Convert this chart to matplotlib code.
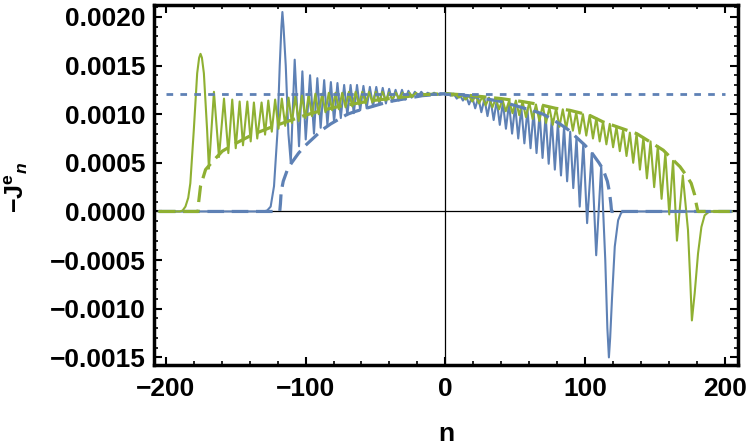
import numpy as np
import matplotlib
matplotlib.use("Agg")
import matplotlib.pyplot as plt
from matplotlib.ticker import MultipleLocator, FuncFormatter

# (n, -J^e_n), peaks and troughs of the oscillations
blue_solid = [
    (-205, 0), (-130, 0), (-127.5, 0.00001), (-125, 0.00005), (-122.6, 0.00026),
    (-120.2, 0.0008), (-118.5, 0.0015), (-117.3, 0.0019), (-116.6, 0.00205),
    (-115.8, 0.0019), (-114.2, 0.0015), (-112.3, 0.0008), (-110.6, 0.0005),
    (-107.8, 0.00156), (-104.7, 0.00067), (-102.3, 0.00144), (-99.9, 0.00074),
    (-96.8, 0.00140), (-94.0, 0.00080), (-91.6, 0.00137), (-89.2, 0.00086),
    (-86.7, 0.00135), (-84.4, 0.00089), (-81.9, 0.00133), (-79.6, 0.00092),
    (-77.2, 0.00132), (-74.8, 0.00096), (-72.4, 0.00130), (-70.1, 0.00099),
    (-67.8, 0.00130), (-65.5, 0.00101), (-63.2, 0.00130), (-60.9, 0.00104),
    (-58.6, 0.00129), (-56.3, 0.00106), (-54.0, 0.00128), (-51.7, 0.00108),
    (-49.4, 0.00128), (-47.1, 0.00110), (-44.8, 0.00127), (-42.5, 0.00111),
    (-40.2, 0.00126), (-37.9, 0.00113), (-35.6, 0.00125), (-33.3, 0.00114),
    (-31.0, 0.00125), (-28.7, 0.00115), (-26.4, 0.00124), (-24.1, 0.00117),
    (-21.8, 0.00123), (-19.5, 0.00118), (-17.2, 0.00123), (-14.9, 0.00119),
    (-12.6, 0.00122), (-10.3, 0.00120), (-8.0, 0.00122), (-5.7, 0.00120),
    (-3.4, 0.001215), (-1.1, 0.00121), (0, 0.00121),
    (1.6, 0.00121), (3.8, 0.00119), (6.0, 0.00121), (8.2, 0.00116), (10.4, 0.00120),
    (12.6, 0.00114), (14.8, 0.00119), (17.0, 0.00110), (19.2, 0.00118),
    (21.4, 0.00106), (23.6, 0.00117), (25.8, 0.00102), (28.0, 0.00116),
    (30.2, 0.00098), (32.4, 0.00115), (34.6, 0.00094), (36.8, 0.00114),
    (39.0, 0.00089), (41.2, 0.00112), (43.4, 0.00085), (45.6, 0.00111),
    (47.8, 0.00080), (50.0, 0.00109), (52.2, 0.00075), (54.4, 0.00107),
    (56.6, 0.00070), (58.8, 0.00105), (61.0, 0.00065), (63.2, 0.00103),
    (65.3, 0.00060), (67.5, 0.00101), (69.6, 0.00055), (71.8, 0.00099),
    (74.0, 0.00049), (76.2, 0.00095), (78.4, 0.00043), (80.6, 0.00091),
    (82.8, 0.00037), (85.0, 0.00087), (87.2, 0.00031), (89.4, 0.00082),
    (91.6, 0.00024), (93.9, 0.00076), (96.2, 0.00005), (98.8, 0.00070),
    (101.5, -0.00012), (104.8, 0.00060), (108.0, -0.00045), (111.6, 0.00047),
    (114.5, -0.0005), (116.0, -0.0012), (117.1, -0.0015), (118.0, -0.0013),
    (119.3, -0.0009), (121.3, -0.00036), (123.7, -0.00009), (126, -0.00001),
    (129, 0), (205, 0),
]

green_solid = [
    (-205, 0), (-190, 0), (-188, 0.00001), (-186, 0.00005), (-184, 0.00014),
    (-182.5, 0.00029), (-180, 0.00084), (-177.6, 0.00142), (-176.2, 0.00158),
    (-175.2, 0.00162), (-174.2, 0.00158), (-172.8, 0.00142), (-170.5, 0.00084),
    (-169.2, 0.00044), (-165.6, 0.00123), (-162.0, 0.00056), (-158.4, 0.00116),
    (-155.3, 0.00060), (-152.5, 0.00115), (-150.0, 0.00065), (-147.2, 0.00113),
    (-144.8, 0.00068), (-141.7, 0.00113), (-139.3, 0.00072), (-137.0, 0.00112),
    (-134.6, 0.00075), (-131.5, 0.00112), (-129.0, 0.00079), (-126.7, 0.00114),
    (-124.2, 0.00082), (-121.8, 0.00115), (-119.4, 0.00085), (-117.0, 0.00116),
    (-114.6, 0.00088), (-112.2, 0.00117), (-109.8, 0.00091), (-107.4, 0.00118),
    (-105.0, 0.00093), (-102.6, 0.00119), (-100.2, 0.00096), (-97.8, 0.00120),
    (-95.4, 0.00098), (-93.0, 0.00121), (-90.6, 0.00100), (-88.2, 0.00121),
    (-85.8, 0.00102), (-83.4, 0.00122), (-81.0, 0.00104), (-78.6, 0.00122),
    (-76.2, 0.00105), (-73.8, 0.00122), (-71.4, 0.00107), (-69.0, 0.00123),
    (-66.6, 0.00108), (-64.2, 0.00123), (-61.8, 0.00110), (-59.4, 0.00123),
    (-57.0, 0.00111), (-54.6, 0.00123), (-52.2, 0.00112), (-49.8, 0.00123),
    (-47.4, 0.00113), (-45.0, 0.00123), (-42.6, 0.00114), (-40.2, 0.00122),
    (-37.8, 0.00115), (-35.4, 0.00122), (-33.0, 0.00116), (-30.6, 0.00122),
    (-28.2, 0.00117), (-25.8, 0.00122), (-23.4, 0.00118), (-21.0, 0.00122),
    (-18.6, 0.00119), (-16.2, 0.00121), (-13.8, 0.00119), (-11.4, 0.00121),
    (-9.0, 0.00120), (-6.6, 0.00121), (-4.2, 0.00120), (-1.8, 0.00121), (0, 0.00121),
    (2.5, 0.00121), (4.9, 0.00119), (7.3, 0.00120), (9.7, 0.00117), (12.1, 0.00120),
    (14.5, 0.00115), (16.9, 0.00119), (19.3, 0.00113), (21.7, 0.00119),
    (24.1, 0.00111), (26.5, 0.00118), (28.9, 0.00109), (31.3, 0.00117),
    (33.7, 0.00107), (36.1, 0.00116), (38.5, 0.00105), (40.9, 0.00115),
    (43.3, 0.00103), (45.7, 0.00114), (48.1, 0.00101), (50.5, 0.00114),
    (52.9, 0.00099), (55.3, 0.00113), (57.7, 0.00097), (60.1, 0.00112),
    (62.5, 0.00095), (64.9, 0.00110), (67.3, 0.00093), (69.7, 0.00109),
    (72.1, 0.00091), (74.5, 0.00107), (76.9, 0.00089), (79.3, 0.00106),
    (81.7, 0.00087), (84.1, 0.00105), (86.5, 0.00085), (88.9, 0.00104),
    (91.3, 0.00083), (93.7, 0.00102), (96.1, 0.00080), (98.5, 0.00100),
    (100.9, 0.00078), (103.3, 0.00099), (105.7, 0.00075), (108.1, 0.00096),
    (110.5, 0.00072), (112.9, 0.00092), (115.3, 0.00069), (117.7, 0.00090),
    (120.1, 0.00066), (122.5, 0.00087), (124.9, 0.00062), (127.3, 0.00084),
    (129.7, 0.00057), (132.1, 0.00081), (134.5, 0.00050), (136.9, 0.00080),
    (139.3, 0.00043), (141.8, 0.00076), (144.3, 0.00034), (146.9, 0.00072),
    (149.5, 0.00025), (152.1, 0.00067), (154.8, 0.00013), (157.5, 0.00060),
    (160.3, -0.00003), (163.0, 0.00052), (165.8, -0.00030), (170.0, 0.00037),
    (173.7, -0.00019), (175.3, -0.0007), (176.5, -0.00112), (178.5, -0.00084),
    (180.9, -0.00043), (183.3, -0.00016), (185.6, -0.00004), (189, 0), (205, 0),
]

blue_dashed = [
    (-205, 0), (-118.5, 0), (-118, 0.00008), (-117.5, 0.0002), (-116, 0.00031),
    (-113, 0.00043), (-110, 0.0005), (-105, 0.0006), (-100, 0.00068),
    (-94, 0.00076), (-88, 0.00084), (-82, 0.0009), (-76, 0.00095), (-70, 0.001),
    (-64, 0.00103), (-52, 0.00108), (-40, 0.00113), (-28, 0.00116),
    (-16.5, 0.00119), (-8, 0.0012), (0, 0.00121), (8, 0.0012), (16.5, 0.00119),
    (28, 0.00116), (40, 0.00113), (52, 0.00108), (64, 0.00103), (70, 0.001),
    (76, 0.00095), (82, 0.0009), (88, 0.00084), (94, 0.00076), (100, 0.00068),
    (105, 0.0006), (110, 0.0005), (113, 0.00043), (116, 0.00031),
    (117.5, 0.0002), (118.5, 0.00008), (119, 0), (205, 0),
]

green_dashed = [
    (-205, 0), (-177, 0), (-176.5, 0.0001), (-175.2, 0.00026), (-171.6, 0.00043),
    (-166.8, 0.00051), (-159.6, 0.00062), (-150, 0.0007), (-138, 0.00079),
    (-124, 0.00087), (-110, 0.00094), (-100, 0.00099), (-88, 0.00104),
    (-76, 0.00108), (-64, 0.00111), (-52, 0.00114), (-40, 0.00116),
    (-28, 0.00118), (-16.5, 0.0012), (0, 0.00121), (12, 0.0012), (26.5, 0.00118),
    (40, 0.00116), (55, 0.00113), (67, 0.0011), (79, 0.00106), (89, 0.00104),
    (103, 0.00099), (113, 0.00092), (125, 0.00086), (137, 0.0008),
    (146, 0.00072), (156, 0.00063), (163, 0.00053), (168, 0.00046),
    (172.5, 0.00037), (176, 0.00029), (178.5, 0.00017), (179.6, 0.00008),
    (180.8, 0), (205, 0),
]

dotted_n = [-200, 200]
dotted_j = [0.00121, 0.00121]

blue = "#5E81B5"
green = "#8FB032"

plt.rcParams["font.family"] = "Liberation Sans"
plt.rcParams["font.weight"] = "bold"
plt.rcParams["mathtext.fontset"] = "custom"
plt.rcParams["mathtext.rm"] = "Liberation Sans:bold"
plt.rcParams["mathtext.it"] = "Liberation Sans:bold:italic"
plt.rcParams["mathtext.bf"] = "Liberation Sans:bold"

fig = plt.figure(figsize=(7.5, 4.46), dpi=100)
ax = fig.add_axes([154 / 750, 1 - 365 / 446, 584 / 750, 360 / 446])

ax.axhline(0, color="black", lw=0.9, zorder=1)
ax.axvline(0, color="black", lw=0.9, zorder=1)

bs = np.array(blue_solid).T
gs = np.array(green_solid).T
bd = np.array(blue_dashed).T
gd = np.array(green_dashed).T

ax.plot(bs[0], bs[1], color=blue, lw=1.5, zorder=2)
ax.plot(gs[0], gs[1], color=green, lw=1.5, zorder=3)
ax.plot(bd[0], bd[1], color=blue, lw=2.3, dashes=(5.2, 2.4), zorder=4)
ax.plot(gd[0], gd[1], color=green, lw=2.3, dashes=(5.2, 2.4), zorder=5)
ax.plot(dotted_n, dotted_j, color=blue, lw=2.0, dashes=(2.4, 2.6), zorder=6)

ax.set_xlim(-208.5, 209.5)
ax.set_ylim(-0.001578, 0.002122)

ax.xaxis.set_major_locator(MultipleLocator(100))
ax.xaxis.set_minor_locator(MultipleLocator(20))
ax.yaxis.set_major_locator(MultipleLocator(0.0005))
ax.yaxis.set_minor_locator(MultipleLocator(0.0001))
ax.xaxis.set_major_formatter(FuncFormatter(lambda v, p: ("%d" % round(v)).replace("-", "\u2212")))
ax.yaxis.set_major_formatter(FuncFormatter(lambda v, p: ("%.4f" % (0 if abs(v) < 1e-9 else v)).replace("-", "\u2212")))

ax.tick_params(which="both", direction="in", top=True, right=True, labelsize=19)
ax.tick_params(which="major", length=6, width=1.5)
ax.tick_params(which="minor", length=3, width=1.2)
ax.tick_params(axis="x", which="major", pad=9)
ax.tick_params(axis="y", which="major", pad=6)
for s in ax.spines.values():
    s.set_linewidth(2.5)

fig.text(446 / 750, 1 - 434 / 446, "n", ha="center", va="center", fontsize=19, fontweight="bold")
fig.text(16 / 750, 1 - 187 / 446, r"$\mathrm{-J}^{\mathrm{e}}{}_{n}$", ha="center", va="center",
         rotation=90, fontsize=18)

fig.savefig("out.png", dpi=100)
